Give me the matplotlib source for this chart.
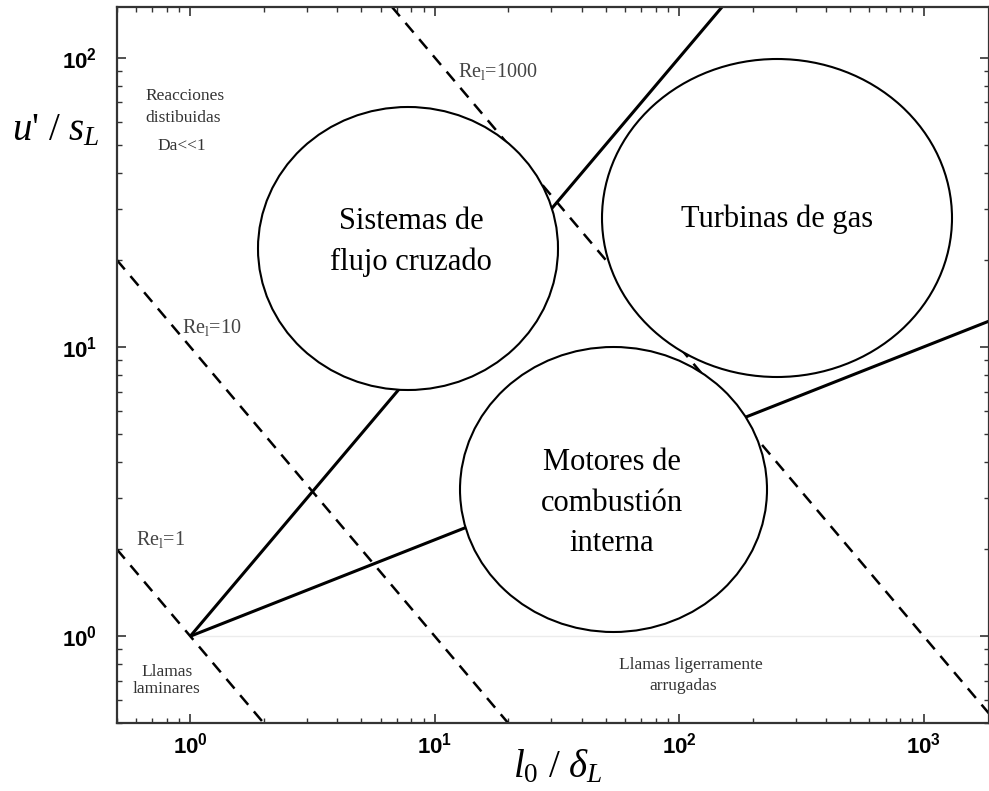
import matplotlib
matplotlib.use("Agg")
import matplotlib.pyplot as plt
from matplotlib.patches import Ellipse
from matplotlib.ticker import NullFormatter, LogLocator

plt.rcParams['mathtext.fontset'] = 'custom'
plt.rcParams['mathtext.rm'] = 'Liberation Serif'
plt.rcParams['mathtext.it'] = 'Liberation Serif:italic'
plt.rcParams['mathtext.bf'] = 'Liberation Sans:bold'
plt.rcParams['font.family'] = ['Liberation Serif', 'DejaVu Sans']

# ---------------- data ----------------
# Re_l = const lines (endpoints in data units)
re_names = ["1", "10", "1000"]
re_x = [[0.5, 2.0], [0.5, 20.0], [6.67, 2000.0]]
re_y = [[2.0, 0.5], [20.0, 0.5], [150.0, 0.5]]
# Da = 1 line (slope 1) and Ka = 1 line (slope 1/3)
da_x = [1.0, 150.0]
da_y = [1.0, 150.0]
ka_x = [1.0, 1850.0]
ka_y = [1.0, 12.28]
# faint reference line at u'/sL = 1
ref_x = [1.0, 1850.0]
ref_y = [1.0, 1.0]

xticks = [1, 10, 100, 1000]
xtick_labels = [r"$\mathbf{10^{0}}$", r"$\mathbf{10^{1}}$", r"$\mathbf{10^{2}}$", r"$\mathbf{10^{3}}$"]
yticks = [1, 10, 100]
ytick_labels = [r"$\mathbf{10^{0}}$", r"$\mathbf{10^{1}}$", r"$\mathbf{10^{2}}$"]

regions = [
    ["Sistemas de", "flujo cruzado"],
    ["Turbinas de gas"],
    ["Motores de", "combustión", "interna"],
]

# ---------------- layout ----------------
W, H = 989, 791
AX_L, AX_R, AX_T, AX_B = 116.7, 989.0, 6.7, 723.3

fig = plt.figure(figsize=(W / 100, H / 100), dpi=100)
ax = fig.add_axes([AX_L / W, 1 - AX_B / H, (AX_R - AX_L) / W, (AX_B - AX_T) / H])


def af(x, y):
    return ((x - AX_L) / (AX_R - AX_L), (AX_B - y) / (AX_B - AX_T))


def ff(x, y):
    return (x / W, 1 - y / H)


ax.set_xscale('log')
ax.set_yscale('log')
ax.set_xlim(0.5, 1850)
ax.set_ylim(0.5, 150)

ax.plot(ref_x, ref_y, color='#ececec', lw=1.0, zorder=1)
for xs, ys in zip(re_x, re_y):
    ax.plot(xs, ys, color='black', lw=1.8, linestyle=(0, (5, 3.5)), zorder=2)
ax.plot(da_x, da_y, color='black', lw=2.2, zorder=2, solid_capstyle='butt')
ax.plot(ka_x, ka_y, color='black', lw=2.2, zorder=2, solid_capstyle='butt')

# ellipses (pixel boxes: centre x, centre y, width, height)
ell_px = [(408, 248.5, 300, 283), (777, 218, 350, 318), (613.5, 489.5, 307, 285)]
for (cx, cy, w, h) in ell_px:
    c = af(cx, cy)
    e = Ellipse(c, w / (AX_R - AX_L), h / (AX_B - AX_T), transform=ax.transAxes,
                facecolor='white', edgecolor='black', lw=1.5, zorder=5)
    ax.add_patch(e)

# region texts (baselines in pixels)
region_pos = [
    [(411, 229), (411, 270)],
    [(777, 227)],
    [(612, 470), (612, 511), (612, 551)],
]
for lines, poss in zip(regions, region_pos):
    for t, (x, y) in zip(lines, poss):
        ax.text(*af(x, y), t, transform=ax.transAxes, ha='center', va='baseline',
                fontsize=22, color='black', zorder=6, family='Liberation Serif')

# small annotations
small = [
    ("Reacciones", 185, 96), ("distibuidas", 183, 118), ("Da<<1", 182, 146),
    ("Llamas", 167, 672), ("laminares", 166, 689),
    ("Llamas ligerramente", 691, 665), ("arrugadas", 683, 686),
]
for t, x, y in small:
    ax.text(*af(x, y), t, transform=ax.transAxes, ha='center', va='center',
            fontsize=12.5, color='#333333', zorder=6)

re_pos = [(136, 539), (182, 327), (458, 71)]
for name, (x, y) in zip(re_names, re_pos):
    ax.text(*af(x, y), r"Re$_{\mathrm{l}}$=" + name, transform=ax.transAxes,
            ha='left', va='center', fontsize=14.5, color='#444444', zorder=6)

# axis labels
fig.text(*ff(12, 140), r"$u$' / $s_L$", fontsize=28, ha='left', va='baseline')
fig.text(*ff(513, 777), r"$l_0$ / $\delta_L$", fontsize=28, ha='left', va='baseline')

# ticks
ax.set_xticks(xticks, labels=xtick_labels)
ax.set_yticks(yticks, labels=ytick_labels)
ax.xaxis.set_minor_locator(LogLocator(base=10, subs=range(2, 10)))
ax.yaxis.set_minor_locator(LogLocator(base=10, subs=range(2, 10)))
ax.xaxis.set_minor_formatter(NullFormatter())
ax.yaxis.set_minor_formatter(NullFormatter())
ax.tick_params(which='both', direction='in', top=True, right=True, color='#333333')
ax.tick_params(which='major', length=6.5, width=1.2, labelsize=16)
ax.tick_params(which='minor', length=3.5, width=1.0)
ax.tick_params(axis='y', which='major', pad=14)
ax.tick_params(axis='x', which='major', pad=7)

for s in ax.spines.values():
    s.set_linewidth(1.6)
    s.set_color('#333333')

fig.savefig('out.png', dpi=100)
